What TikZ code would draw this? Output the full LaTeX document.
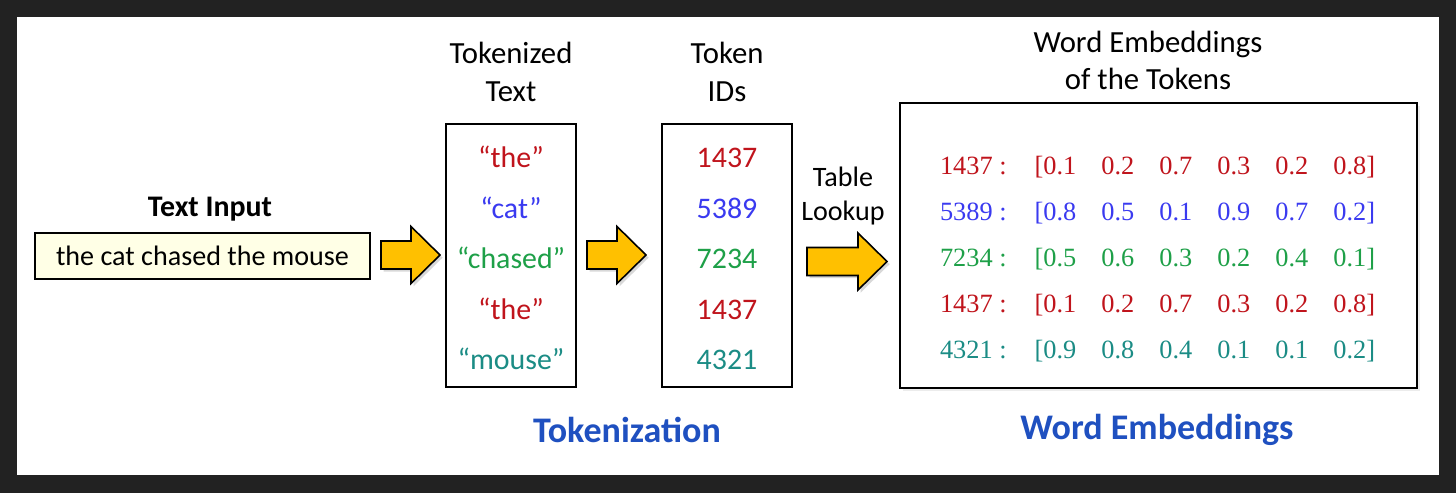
\documentclass[tikz,border=0pt]{standalone}
\usepackage{fontspec}
\setmainfont{Carlito}
\newfontfamily\numfont{Liberation Serif}
\usetikzlibrary{positioning, shadows, calc}
\definecolor{tokred}{HTML}{C0141C}
\definecolor{tokblue}{HTML}{3A3AF0}
\definecolor{tokgreen}{HTML}{1EA048}
\definecolor{tokteal}{HTML}{1B8C85}
\definecolor{headblue}{HTML}{1F50C0}
\definecolor{arrowgold}{HTML}{FFC000}
\definecolor{cream}{HTML}{FFFFE6}
\definecolor{bgframe}{HTML}{222222}
\tikzset{
    listbox/.style={draw, fill=white, line width=1.1pt, minimum width=2.6cm, minimum height=5.26cm, inner sep=0pt},
    tokword/.style={font=\fontsize{17}{20}\selectfont, text height=1.5ex, text depth=.25ex, inner sep=0pt},
    headtext/.style={font=\fontsize{17.5}{21.5}\selectfont, align=center, inner sep=0pt},
    captext/.style={font=\fontsize{20.5}{24}\selectfont\bfseries, text=headblue, inner sep=0pt},
    embnum/.style={font=\numfont\fontsize{15}{18}\selectfont, inner sep=0pt},
    fatarrow/.pic={
        \draw[fill=arrowgold, line width=0.9pt, line join=miter,
              drop shadow={opacity=0.3, shadow xshift=1.5pt, shadow yshift=-1.5pt}]
            (0,-14) -- (#1-29,-14) -- (#1-29,-28.5) -- (#1,0) -- (#1-29,28.5) -- (#1-29,14) -- (0,14) -- cycle;
    },
}

\begin{document}
\begin{tikzpicture}[x=0.02cm, y=-0.02cm]
% background frame
\useasboundingbox (0,0) rectangle (1456,493);
\fill[bgframe] (0,0) rectangle (1456,493);
\fill[white] (17,17) rectangle (1439,475);

% text input
\node[font=\fontsize{17}{20}\selectfont\bfseries, inner sep=0pt] (inhead) at (210,209) {Text Input};
\node[draw, fill=cream, line width=1pt, minimum width=6.7cm, minimum height=0.92cm,
      font=\fontsize{16}{19}\selectfont] (inputbox) at (202.5,256) {the cat chased the mouse};

% tokenization
\node[headtext] (tokhead) at (511,72) {Tokenized\\Text};
\node[headtext] (idhead) at (727,72) {Token\\IDs};
\node[listbox] (tokbox) at (511,255.5) {};
\node[listbox] (idbox) at (727,255.5) {};
\foreach \word/\id/\col [count=\i] in {the/1437/tokred, cat/5389/tokblue, chased/7234/tokgreen, the/1437/tokred, mouse/4321/tokteal} {
    \node[tokword, text=\col] (w\i) at (511,{112+50.5*\i}) {“\word”};
    \node[tokword, text=\col] (id\i) at (727,{112+50.5*\i}) {\id};
}
\node[captext] (tokcap) at (627,430) {Tokenization};

% arrows
\pic at (381,255) {fatarrow=59};
\pic at (587,255) {fatarrow=59};
\pic at (807,261.5) {fatarrow=80};
\node[headtext, font=\fontsize{16}{19.3}\selectfont] (lookup) at (843,196) {Table\\Lookup};

% word embeddings
\node[headtext] (embhead) at (1148,60.5) {Word Embeddings\\of the Tokens};
\node[draw, fill=white, line width=1.6pt, minimum width=10.34cm, minimum height=5.7cm,
      drop shadow={opacity=0.15, shadow xshift=1.5pt, shadow yshift=-1.5pt}] (embbox) at (1158.5,245.5) {};
\foreach \id/\vals/\col [count=\i] in {1437/{0.1,0.2,0.7,0.3,0.2,0.8}/tokred,
        5389/{0.8,0.5,0.1,0.9,0.7,0.2}/tokblue,
        7234/{0.5,0.6,0.3,0.2,0.4,0.1}/tokgreen,
        1437/{0.1,0.2,0.7,0.3,0.2,0.8}/tokred,
        4321/{0.9,0.8,0.4,0.1,0.1,0.2}/tokteal} {
    \node[embnum, text=\col, anchor=base east] (lab\i) at (1007,{128+46*\i}) {\id~:};
    \foreach \v [count=\k] in \vals {
        \node[embnum, text=\col, anchor=base west] (e\i-\k) at ({985+58*\k},{128+46*\i})
            {\ifnum\k=1 \llap{[}\fi\v\ifnum\k=6 ]\fi};
    }
}
\node[captext] (embcap) at (1157,430) {Word Embeddings};
\end{tikzpicture}
\end{document}
